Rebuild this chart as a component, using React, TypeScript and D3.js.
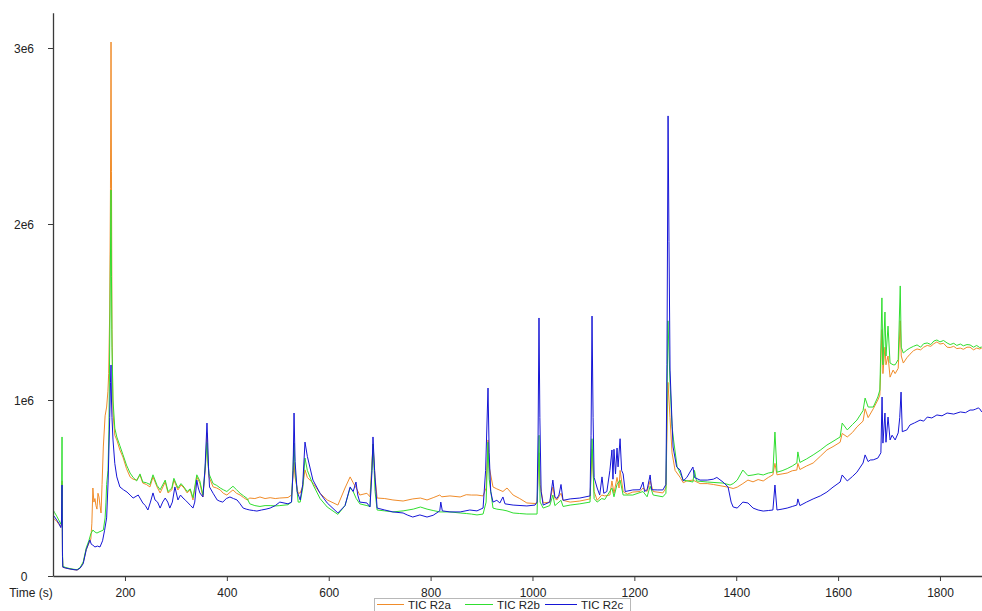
import { useEffect, useRef } from "react";
import * as d3 from "d3";

// [retention time (s), total ion current in thousands of counts]
type Pt = [number, number];

const X_TICKS = [200, 400, 600, 800, 1000, 1200, 1400, 1600, 1800];
const Y_TICKS = [0, 1e6, 2e6, 3e6];
const Y_TICK_LABELS = ["0", "1e6", "2e6", "3e6"];
const SERIES_NAMES = ["TIC R2a", "TIC R2b", "TIC R2c"];
const SERIES_COLORS = ["#F08C2A", "#30DE30", "#1616D6"];

const TIC_R2A: Pt[] = [
  [58.7, 330], [62, 322], [66, 310], [70, 295], [74, 280], [75.5, 300], [76.4, 540], [77.3, 120], [78, 50],
  [84, 45], [92, 40], [100, 36], [106, 34], [112, 45], [118, 75], [124, 150], [129, 185], [133, 210],
  [135, 300], [137, 500], [139, 420], [141, 440], [143, 400], [145, 380], [147, 470], [149, 449], [151, 400],
  [153, 358], [155, 520], [157.5, 733], [161, 910], [164, 960], [166.5, 1050], [168, 1150], [170, 1500],
  [171.5, 2200], [172.6, 3034], [173.5, 2300], [174.5, 1400], [176.5, 926], [180, 800], [184, 773],
  [190, 716], [196, 676], [203, 610], [210, 563], [216, 550], [223, 545], [229.5, 574], [235, 528],
  [242, 520], [249, 506], [255, 563], [263, 506], [269, 472], [279, 534], [284.5, 472], [292, 489],
  [296, 545], [304, 489], [310, 517], [316, 500], [322, 472], [328, 489], [333.5, 432], [341, 563],
  [347, 528], [353, 449], [358, 620], [361, 813], [363, 650], [365, 563], [373, 506], [380, 500],
  [387, 489], [393, 470], [400, 460], [406, 475], [412, 489], [419, 470], [426, 460], [433, 445],
  [440, 432], [445, 443], [455, 440], [465, 449], [475, 440], [485, 445], [495, 440], [504, 443],
  [520, 446], [527, 460], [531.9, 644], [534, 560], [540, 470], [544, 472], [549, 510], [553.4, 603],
  [558, 560], [569, 528], [583, 470], [597, 432], [618, 403], [632, 500], [642, 563], [648, 530],
  [654, 500], [661, 460], [675, 470], [681, 450], [687, 750], [691, 560], [695, 443], [710, 440],
  [726, 432], [746, 426], [765, 438], [780, 443], [793, 432], [805, 445], [818, 460], [822, 450],
  [838, 455], [858, 449], [870, 462], [880, 460], [891, 460], [903, 455], [909, 500], [912.7, 773],
  [915, 620], [922.5, 506], [930, 495], [942, 480], [950, 500], [962, 460], [975, 440], [989, 415],
  [1005, 412], [1009, 415], [1012.8, 700], [1015, 520], [1021, 415], [1034, 420], [1040, 506],
  [1044, 440], [1048, 432], [1056, 470], [1060, 430], [1074, 420], [1093, 426], [1113, 438],
  [1116.9, 720], [1121, 480], [1127, 430], [1136, 460], [1142, 455], [1152, 460], [1156, 540],
  [1160, 470], [1166, 560], [1170, 500], [1172, 600], [1178, 480], [1186, 465], [1197, 477],
  [1211, 480], [1217, 500], [1225, 480], [1231, 540], [1237, 480], [1256, 472], [1262, 500],
  [1266, 1100], [1270, 900], [1274, 700], [1280, 600], [1290, 560], [1296, 530], [1303, 540],
  [1315, 545], [1329, 525], [1343, 525], [1355, 520], [1374, 510], [1384, 505], [1394, 497],
  [1402, 505], [1413, 525], [1423, 545], [1433, 535], [1443, 548], [1453, 540], [1463, 560],
  [1472, 575], [1476, 640], [1480, 575], [1490, 580], [1500, 585], [1510, 598], [1519, 602],
  [1521, 640], [1525, 605], [1538, 625], [1551, 642], [1565, 680], [1578, 716], [1590, 735],
  [1604, 760], [1608, 810], [1618, 790], [1628, 815], [1637, 847], [1649, 880], [1653, 950],
  [1659, 900], [1663, 920], [1669, 950], [1678, 1000], [1682, 1028], [1686, 1400], [1688, 1150],
  [1692, 1300], [1694, 1200], [1698, 1250], [1702, 1130], [1708, 1170], [1712, 1150], [1718, 1180],
  [1722, 1450], [1724, 1250], [1728, 1210], [1735, 1240], [1741, 1260], [1748, 1280], [1755, 1290],
  [1762, 1285], [1768, 1300], [1775, 1310], [1782, 1305], [1788, 1320], [1794, 1330], [1800, 1318],
  [1807, 1322], [1814, 1300], [1820, 1298], [1827, 1305], [1833, 1292], [1840, 1295], [1846, 1288],
  [1853, 1300], [1859, 1300], [1866, 1285], [1872, 1295], [1878, 1290], [1882, 1295],
];

const TIC_R2B: Pt[] = [
  [58.7, 375], [62, 360], [66, 340], [70, 318], [74, 295], [75.5, 320], [76.4, 790], [77.3, 140], [78, 55],
  [84, 48], [92, 42], [100, 38], [106, 36], [112, 48], [118, 80], [124, 160], [129, 200], [133, 240],
  [137, 261], [141, 250], [145, 244], [149, 250], [153, 255], [157.5, 261], [161, 330], [162.7, 420],
  [164, 520], [166.7, 600], [168.5, 830], [170.6, 1500], [172.6, 2193], [173.5, 1700], [174.5, 1300],
  [176.5, 1000], [180, 840], [184, 790], [190, 740], [196, 690], [203, 630], [210, 585], [216, 560],
  [223, 540], [229.5, 580], [235, 534], [242, 530], [249, 520], [255, 575], [263, 515], [269, 490],
  [279, 545], [284.5, 480], [292, 500], [296, 555], [304, 500], [310, 525], [316, 505], [322, 480],
  [328, 495], [333.5, 445], [341, 575], [347, 540], [353, 460], [358, 640], [361, 760], [363, 640],
  [365, 580], [373, 525], [380, 515], [387, 500], [393, 490], [400, 480], [406, 495], [412, 510],
  [419, 490], [426, 470], [433, 455], [440, 440], [445, 410], [455, 400], [465, 395], [475, 400],
  [485, 400], [495, 398], [504, 400], [520, 405], [527, 420], [531.9, 755], [534, 600], [540, 420],
  [544, 420], [549, 500], [553.4, 670], [558, 600], [569, 520], [583, 440], [597, 392], [618, 350],
  [632, 400], [642, 500], [648, 480], [654, 440], [661, 410], [675, 400], [681, 395], [687, 750],
  [691, 480], [695, 375], [710, 370], [726, 364], [746, 370], [766, 380], [780, 392], [793, 380],
  [805, 372], [818, 364], [838, 364], [858, 358], [870, 355], [880, 352], [891, 347], [903, 352],
  [909, 420], [912.7, 760], [915, 550], [922.5, 386], [930, 380], [942, 375], [950, 370], [962, 358],
  [975, 355], [989, 352], [1009, 352], [1012.8, 800], [1015, 420], [1021, 386], [1034, 400],
  [1040, 460], [1044, 400], [1056, 430], [1060, 395], [1074, 403], [1093, 410], [1113, 420],
  [1116.9, 780], [1121, 440], [1127, 420], [1136, 440], [1142, 435], [1156, 500], [1160, 450],
  [1166, 520], [1172, 545], [1178, 460], [1197, 460], [1217, 480], [1225, 450], [1231, 510],
  [1237, 460], [1256, 450], [1262, 470], [1266, 1450], [1270, 1100], [1274, 850], [1277, 773],
  [1284, 620], [1296, 545], [1315, 534], [1318, 600], [1322, 540], [1343, 534], [1374, 528],
  [1388, 517], [1394, 525], [1402, 545], [1413, 602], [1423, 570], [1433, 574], [1443, 580],
  [1453, 574], [1463, 585], [1472, 590], [1476, 818], [1480, 590], [1490, 598], [1500, 610],
  [1510, 625], [1519, 642], [1521, 705], [1525, 645], [1538, 665], [1551, 688], [1565, 715],
  [1578, 744], [1590, 765], [1604, 790], [1608, 869], [1618, 830], [1628, 860], [1637, 886],
  [1649, 940], [1653, 1011], [1659, 960], [1669, 960], [1678, 1017], [1682, 1057], [1686, 1580],
  [1688, 1200], [1692, 1500], [1694, 1250], [1698, 1420], [1702, 1210], [1708, 1200], [1712, 1200],
  [1718, 1230], [1722, 1648], [1724, 1300], [1728, 1267], [1735, 1284], [1741, 1295], [1748, 1305],
  [1755, 1313], [1762, 1300], [1768, 1320], [1775, 1324], [1782, 1315], [1788, 1335], [1794, 1341],
  [1800, 1330], [1807, 1338], [1814, 1324], [1820, 1315], [1827, 1322], [1833, 1310], [1840, 1318],
  [1846, 1308], [1853, 1315], [1859, 1313], [1866, 1300], [1872, 1310], [1878, 1298], [1882, 1301],
];

const TIC_R2C: Pt[] = [
  [58.7, 347], [62, 335], [66, 318], [70, 300], [74, 275], [75.5, 300], [76.4, 517], [77.3, 110], [78, 50],
  [84, 45], [92, 40], [100, 36], [106, 34], [112, 45], [118, 70], [124, 150], [128, 180], [131, 205],
  [134, 180], [137, 175], [141, 165], [146, 170], [151, 165], [156, 200], [160, 260], [164, 330],
  [167, 545], [170, 900], [171.6, 1100], [172.6, 1199], [173.5, 1000], [174.5, 900], [176.5, 773],
  [180, 640], [184, 563], [190, 506], [197, 490], [204, 477], [210, 460], [216, 443], [226, 460],
  [235, 415], [240, 400], [245, 375], [250, 420], [255, 472], [259, 432], [264, 420], [269, 386],
  [274, 420], [279, 443], [284, 420], [288, 386], [293, 420], [298, 506], [304, 432], [309, 460],
  [314, 443], [319, 430], [324, 415], [329, 400], [333.5, 386], [337, 420], [341, 545], [344, 500],
  [347, 472], [353, 449], [357, 602], [361, 869], [362.5, 760], [364, 620], [366, 506], [373, 470],
  [381, 432], [386, 425], [392, 420], [399, 440], [406, 449], [413, 440], [420, 432], [426, 410],
  [432, 386], [438, 380], [445, 375], [452, 372], [459, 369], [468, 375], [477, 380], [485, 386],
  [495, 400], [504, 420], [520, 410], [527, 420], [530, 600], [531.9, 926], [534, 650], [538, 480],
  [544, 432], [549, 520], [553.4, 761], [558, 680], [569, 545], [583, 470], [597, 415], [618, 358],
  [632, 400], [642, 506], [648, 480], [653.5, 534], [657, 460], [661, 420], [675, 415], [681, 392],
  [685, 600], [686.9, 790], [690, 600], [695, 386], [710, 375], [726, 364], [746, 358], [754, 347],
  [765, 335], [779, 347], [793, 335], [805, 345], [818, 370], [820, 420], [823, 370], [838, 364],
  [858, 364], [877, 375], [891, 370], [903, 386], [908, 600], [912.7, 1068], [915, 700], [918, 480],
  [922.5, 420], [930, 430], [936, 415], [942, 449], [946, 410], [962, 403], [989, 398], [1005, 403],
  [1009, 420], [1011, 800], [1012.8, 1466], [1014.5, 900], [1017, 480], [1021, 403], [1034, 420],
  [1040, 545], [1044, 450], [1048, 440], [1052, 460], [1056, 520], [1060, 430], [1074, 438],
  [1093, 443], [1113, 455], [1115, 800], [1116.9, 1477], [1119, 900], [1121, 560], [1127, 500],
  [1132, 460], [1136.5, 563], [1140, 470], [1146, 480], [1152, 600], [1156, 716], [1158, 550],
  [1160, 720], [1163, 580], [1166, 727], [1168, 620], [1172, 780], [1175, 600], [1178, 580],
  [1182, 480], [1197, 489], [1211, 490], [1217, 534], [1220, 480], [1225, 490], [1231, 574],
  [1234, 490], [1246, 489], [1256, 489], [1262, 520], [1264, 1200], [1266.2, 2614], [1268, 1900],
  [1270.1, 1170], [1274, 869], [1276, 733], [1283, 620], [1290, 602], [1296, 540], [1303, 560],
  [1315, 619], [1318, 560], [1329, 545], [1343, 545], [1355, 550], [1362, 560], [1374, 534],
  [1384, 506], [1390, 420], [1394, 392], [1402, 386], [1413, 420], [1423, 415], [1433, 386],
  [1443, 375], [1453, 369], [1463, 372], [1472, 375], [1476, 517], [1480, 375], [1490, 380],
  [1500, 386], [1510, 395], [1519, 403], [1521, 438], [1525, 400], [1538, 420], [1551, 438],
  [1565, 455], [1578, 477], [1590, 505], [1604, 534], [1608, 574], [1618, 540], [1628, 565],
  [1637, 590], [1649, 642], [1653, 688], [1659, 650], [1663, 659], [1669, 660], [1678, 670],
  [1684, 700], [1686.3, 1017], [1688, 755], [1692, 926], [1694, 760], [1698, 903], [1702, 773],
  [1706, 800], [1712, 773], [1718, 813], [1721, 900], [1723.6, 1045], [1726, 820], [1735, 830],
  [1741, 858], [1750, 870], [1761, 886], [1768, 880], [1775, 903], [1784, 898], [1794, 915],
  [1804, 910], [1814, 926], [1827, 920], [1840, 932], [1850, 928], [1859, 943], [1865, 943],
  [1870, 948], [1875, 955], [1878, 950], [1882, 932],
];

const SERIES = [TIC_R2A, TIC_R2B, TIC_R2C];

const W = 982, H = 611;
const M = { left: 53, right: 982, top: 12.8, bottom: 576 };
const FONT = "'Liberation Sans', Arial, sans-serif";
const AXIS = "#3a3a3a";

export default function App() {
  const ref = useRef<SVGSVGElement>(null);
  useEffect(() => {
    const el = ref.current;
    if (!el) return;
    const svg = d3.select(el);
    svg.selectAll("*").remove();

    const x = d3.scaleLinear().domain([58.7, 1882.5]).range([M.left, M.right]);
    const y = d3.scaleLinear().domain([0, 3.2e6]).range([M.bottom, M.top]);

    svg.append("defs").append("clipPath").attr("id", "plot-clip")
      .append("rect").attr("x", M.left).attr("y", 0).attr("width", M.right - M.left).attr("height", M.bottom);

    const line = d3.line<Pt>().x((d) => x(d[0])).y((d) => y(d[1] * 1000));
    const g = svg.append("g").attr("clip-path", "url(#plot-clip)");
    SERIES.forEach((s, i) => {
      g.append("path").attr("d", line(s)).attr("fill", "none")
        .attr("stroke", SERIES_COLORS[i]).attr("stroke-width", 1).attr("stroke-linejoin", "round");
    });

    // y axis
    const ya = svg.append("g").attr("transform", `translate(${M.left},0)`)
      .call(d3.axisLeft(y).tickValues(Y_TICKS).tickSize(5).tickSizeOuter(0)
        .tickFormat((_d, i) => Y_TICK_LABELS[i]));
    ya.select(".domain").attr("stroke", AXIS).attr("stroke-width", 1.3);
    ya.selectAll(".tick line").attr("stroke", AXIS);
    ya.selectAll(".tick text").attr("x", -29).attr("dy", "4.5").attr("text-anchor", "middle")
      .attr("fill", "#222").attr("font-size", 12).attr("font-family", FONT);

    // x axis
    const xa = svg.append("g").attr("transform", `translate(0,${M.bottom})`)
      .call(d3.axisBottom(x).tickValues(X_TICKS).tickSize(5).tickSizeOuter(0).tickFormat(d3.format("d")));
    xa.select(".domain").attr("stroke", AXIS).attr("stroke-width", 1.3);
    xa.selectAll(".tick line").attr("stroke", AXIS);
    xa.selectAll(".tick text").attr("y", 21).attr("dy", 0)
      .attr("fill", "#222").attr("font-size", 12).attr("font-family", FONT);
    svg.append("text").attr("x", 31).attr("y", 597).attr("text-anchor", "middle")
      .attr("fill", "#222").attr("font-size", 12).attr("font-family", FONT).text("Time (s)");

    // legend (box runs off the bottom edge, as in the original)
    const lg = svg.append("g");
    lg.append("rect").attr("x", 374.5).attr("y", 598.5).attr("width", 256).attr("height", 20)
      .attr("fill", "#fff").attr("stroke", "#b8b8b8");
    const lineX = [377, 465, 545];
    const lineW = [27, 28, 32];
    SERIES_NAMES.forEach((name, i) => {
      lg.append("line").attr("x1", lineX[i]).attr("x2", lineX[i] + lineW[i]).attr("y1", 604.5).attr("y2", 604.5)
        .attr("stroke", SERIES_COLORS[i]).attr("stroke-width", 1);
      lg.append("text").attr("x", lineX[i] + lineW[i] + 4).attr("y", 608.5)
        .attr("fill", "#222").attr("font-size", 11.5).attr("font-family", FONT).text(name);
    });
  }, []);
  return (
    <svg ref={ref} width={W} height={H} role="img" aria-label="TIC chromatograms"
      style={{ position: "absolute", left: 0, top: 0, background: "#fff" }} />
  );
}
